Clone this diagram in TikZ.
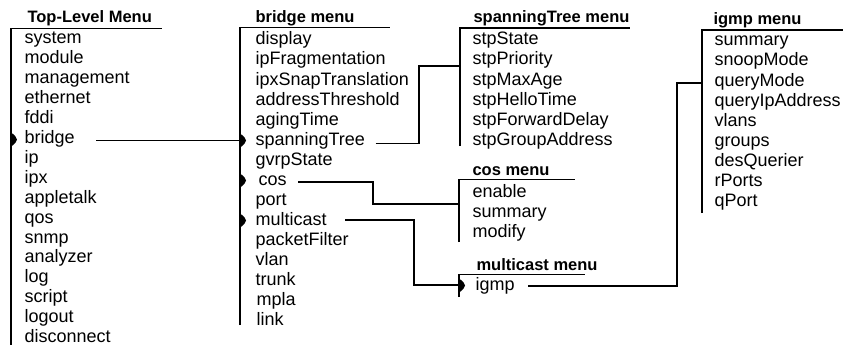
\documentclass[tikz,border=0pt]{standalone}
\usepackage{fontspec}
\setmainfont{Liberation Sans}
\begin{document}
\begin{tikzpicture}[x=1pt,y=-1pt,line width=1.1pt,
  item/.style={anchor=base west,inner sep=0pt,font=\fontsize{18}{20}\selectfont,
               text height=13pt,text depth=0pt},
  title/.style={anchor=base west,inner sep=0pt,font=\bfseries\fontsize{16.5}{20}\selectfont},
  pointer/.pic={\fill (0,-6) -- (1.5,-6) .. controls (3.5,-5) and (5.5,-2) .. (6,0)
                 .. controls (5.5,2) and (3.5,5) .. (1.5,6) -- (0,6) -- cycle;}]
\useasboundingbox (0,0) rectangle (843,345);

% ---- Top-Level Menu
\coordinate (tlc) at (11,28.5);
\node[title] (tl-title) at (27,22.3) {Top-Level Menu};
\draw (11,345) -- (tlc) -- (162,28.5);
\foreach \t [count=\i from 0] in {system,module,management,ethernet,fddi,bridge,ip,ipx,
  appletalk,qos,snmp,analyzer,log,script,logout,disconnect}
  \node[item] (tl-\t) at (24,{43.2+19.98*\i}) {\t};
\pic at (11,139.5) {pointer};

% ---- bridge menu
\coordinate (bmc) at (240,27.5);
\node[title] (bm-title) at (255,22.5) {bridge menu};
\draw (240,325) -- (bmc) -- (390,27.5);
\foreach \t/\dx [count=\i from 0] in {display/0,ipFragmentation/0,ipxSnapTranslation/0,
  addressThreshold/0,agingTime/0,spanningTree/0,gvrpState/0,cos/3,port/0,multicast/0,
  packetFilter/0,vlan/0,trunk/0,mpla/1,link/1}
  \node[item] (bm-\t) at ({255+\dx},{45+20*\i}) {\t};
\pic at (240,140.5) {pointer};
\pic at (240,180.5) {pointer};
\pic at (240,220.5) {pointer};

% ---- spanningTree menu
\coordinate (stc) at (460,28);
\node[title] (st-title) at (473,23) {spanningTree menu};
\draw (460,146) -- (stc) -- (630,28);
\foreach \t [count=\i from 0] in {stpState,stpPriority,stpMaxAge,stpHelloTime,
  stpForwardDelay,stpGroupAddress}
  \node[item] (st-\t) at (472,{45+20*\i}) {\t};

% ---- cos menu
\coordinate (csc) at (459,179.3);
\node[title] (cs-title) at (472,175) {cos menu};
\draw (459,242) -- (csc) -- (575,179.3);
\foreach \t [count=\i from 0] in {enable,summary,modify}
  \node[item] (cs-\t) at (472,{197+20*\i}) {\t};

% ---- multicast menu
\coordinate (mcc) at (459,274.3);
\node[title] (mc-title) at (476,270) {multicast menu};
\draw (459,297) -- (mcc) -- (585,274.3);
\node[item] (mc-igmp) at (475,290) {igmp};
\pic at (459,285.5) {pointer};

% ---- igmp menu
\coordinate (igc) at (702,30);
\node[title] (ig-title) at (713,25) {igmp menu};
\draw (702,213) -- (igc) -- (843,30);
\foreach \t [count=\i from 0] in {summary,snoopMode,queryMode,queryIpAddress,vlans,
  groups,desQuerier,rPorts,qPort}
  \node[item] (ig-\t) at (714,{46+20*\i}) {\t};

% ---- connectors between menus
\coordinate (jogST) at (419,66);
\coordinate (jogCS) at (373,204);
\coordinate (jogMC) at (414,285);
\coordinate (jogIG) at (677,83);
\draw ([xshift=21pt,yshift=-4pt]tl-bridge.east) -- ([yshift=-4pt]tl-bridge.east -| bmc);
\draw ([xshift=10pt,yshift=-5pt]bm-spanningTree.east) -| (jogST) -- (jogST -| stc);
\draw ([xshift=11pt,yshift=-3.5pt]bm-cos.east) -| (jogCS) -- (jogCS -| csc);
\draw ([xshift=18pt,yshift=-1.5pt]bm-multicast.east) -| (jogMC) -- (jogMC -| mcc);
\draw ([xshift=13pt,yshift=-2.5pt]mc-igmp.east) -| (jogIG) -- (jogIG -| igc);
\end{tikzpicture}
\end{document}
